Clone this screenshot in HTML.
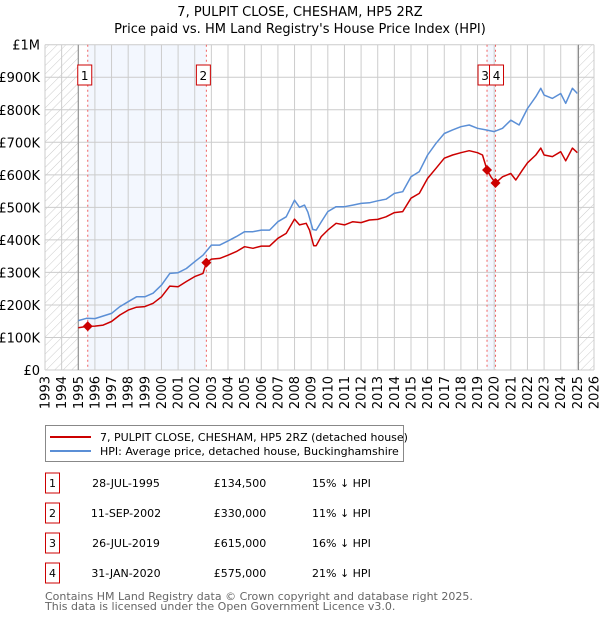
<!DOCTYPE html>
<html><head><meta charset="utf-8"><style>
body{margin:0;background:#fff;font-family:"Liberation Sans","DejaVu Sans",sans-serif;}
#wrap{position:relative;width:600px;height:620px;overflow:hidden}
svg text{font-family:"DejaVu Sans","Liberation Sans",sans-serif}
</style></head><body><div id="wrap">
<svg id="chart" width="600" height="620"></svg>
</div>
<script>
const hpiYears=[1995,1995.5,1996,1996.5,1997,1997.5,1998,1998.5,1999,1999.5,2000,2000.5,2001,2001.5,2002,2002.5,2003,2003.5,2004,2004.5,2005,2005.5,2006,2006.5,2007,2007.5,2008,2008.3,2008.6,2008.8,2009.1,2009.3,2009.6,2010,2010.5,2011,2011.5,2012,2012.5,2013,2013.5,2014,2014.5,2015,2015.5,2016,2016.5,2017,2017.5,2018,2018.5,2019,2019.5,2020,2020.5,2021,2021.5,2022,2022.5,2022.8,2023,2023.5,2024,2024.3,2024.7,2025];
const hpiValues=[152,159,158,166,174,195,210,225,225,236,261,297,299,312,333,353,384,384,397,410,425,425,430,430,456,471,522,500,507,485,432,430,455,487,502,502,507,512,514,520,525,543,548,594,610,661,697,727,738,748,753,743,738,733,743,768,753,804,840,866,845,835,850,820,866,850];
const priceYears=[1995,1995.57,1996,1996.5,1997,1997.5,1998,1998.5,1999,1999.5,2000,2000.5,2001,2001.5,2002,2002.5,2002.7,2003,2003.5,2004,2004.5,2005,2005.5,2006,2006.5,2007,2007.5,2008,2008.3,2008.7,2008.9,2009.15,2009.3,2009.6,2010,2010.5,2011,2011.5,2012,2012.5,2013,2013.5,2014,2014.5,2015,2015.5,2016,2016.5,2017,2017.5,2018,2018.5,2019,2019.3,2019.57,2019.8,2020.08,2020.5,2021,2021.3,2021.7,2022,2022.5,2022.8,2023,2023.5,2024,2024.3,2024.7,2025];
const priceValues=[130,134.5,135,138,149,169,184,193,195,205,225,258,256,272,287,297,330,341,343,353,364,379,374,381,381,405,420,464,446,451,430,382,382,410,430,451,446,456,453,461,463,471,484,487,528,543,589,620,651,661,668,674,668,661,615,594,575,594,604,584,615,637,661,682,661,656,671,643,682,668];
const saleLabels=["1","2","3","4"];
const saleYears=[1995.57,2002.7,2019.57,2020.08];
const saleValues=[134.5,330,615,575];
const yTicks=[0,100,200,300,400,500,600,700,800,900,1000];
const yTickLabels=["£0","£100K","£200K","£300K","£400K","£500K","£600K","£700K","£800K","£900K","£1M"];
const xYears=[1993,1994,1995,1996,1997,1998,1999,2000,2001,2002,2003,2004,2005,2006,2007,2008,2009,2010,2011,2012,2013,2014,2015,2016,2017,2018,2019,2020,2021,2022,2023,2024,2025,2026];
const saleDates=["28-JUL-1995","11-SEP-2002","26-JUL-2019","31-JAN-2020"];
const salePrices=["£134,500","£330,000","£615,000","£575,000"];
const saleDiffs=["15% ↓ HPI","11% ↓ HPI","16% ↓ HPI","21% ↓ HPI"];

const L=45,R=594,T=44.7,B=370;
const X=y=>L+(y-1993)/33*(R-L);
const Y=v=>B-v/1000*(B-T);
const svg=document.getElementById('chart');
const NS='http://www.w3.org/2000/svg';
function mk(tag,attrs,parent){const e=document.createElementNS(NS,tag);for(const k in attrs)e.setAttribute(k,attrs[k]);(parent||svg).appendChild(e);return e;}

const defs=mk('defs',{});
const pat=mk('pattern',{id:'hatch',width:6,height:6,patternUnits:'userSpaceOnUse',patternTransform:'rotate(45)'},defs);
mk('line',{x1:0,y1:0,x2:0,y2:6,stroke:'#ccc','stroke-width':1},pat);

let t=mk('text',{x:300,y:16,'text-anchor':'middle','font-size':13,fill:'#000'});
t.textContent='7, PULPIT CLOSE, CHESHAM, HP5 2RZ';


t=mk('text',{x:300,y:33,'text-anchor':'middle','font-size':13,fill:'#000'});
t.textContent="Price paid vs. HM Land Registry's House Price Index (HPI)";



let r=mk('rect',{x:X(saleYears[0]),y:T,width:X(saleYears[1])-X(saleYears[0]),height:B-T,fill:'#f3f7fe'});


r=mk('rect',{x:X(saleYears[2]),y:T,width:X(saleYears[3])-X(saleYears[2]),height:B-T,fill:'#f3f7fe'});


r=mk('rect',{x:L,y:T,width:X(1995)-L,height:B-T,fill:'url(#hatch)'});


r=mk('rect',{x:X(2025.07),y:T,width:R-X(2025.07),height:B-T,fill:'url(#hatch)'});



yTicks.forEach((v,i)=>{
  const g=mk('line',{x1:L,x2:R,y1:Y(v),y2:Y(v),stroke:'#ccc','stroke-width':1});
  
  
  const tx=mk('text',{x:L-5,y:Y(v)+5,'text-anchor':'end','font-size':13,fill:'#000'});
  tx.textContent=yTickLabels[i];
  
  
});
xYears.forEach(y=>{
  const g=mk('line',{x1:X(y),x2:X(y),y1:T,y2:B,stroke:'#ccc','stroke-width':1});
  
  
  const tx=mk('text',{x:0,y:0,'text-anchor':'end','font-size':13,fill:'#000',transform:`translate(${X(y)+4.5},${B+6}) rotate(-90)`});
  tx.textContent=y;
  
  
});
let vl=mk('line',{x1:X(1995),x2:X(1995),y1:T,y2:B,stroke:'#888','stroke-width':1});


vl=mk('line',{x1:X(2025.07),x2:X(2025.07),y1:T,y2:B,stroke:'#888','stroke-width':1});



saleYears.forEach((y,i)=>{
  const d=mk('line',{x1:X(y),x2:X(y),y1:T,y2:B,stroke:'#f06060','stroke-width':1,'stroke-dasharray':'2,3'});
  
  
});

function path(xs,vs,color,name){
  const p=mk('path',{d:xs.map((y,i)=>(i?'L':'M')+X(y).toFixed(1)+','+Y(vs[i]).toFixed(1)).join(''),fill:'none',stroke:color,'stroke-width':1.5,'stroke-linejoin':'round'});
  
  
}
path(hpiYears,hpiValues,'#5b8fd6','hpi-line');
path(priceYears,priceValues,'#cc0000','price-line');

saleYears.forEach((y,i)=>{
  const c=mk('path',{d:`M${X(y)},${Y(saleValues[i])-5}l5,5l-5,5l-5,-5z`,fill:'#cc0000'});
  
  
});
const boxX=[X(saleYears[0])-10,X(saleYears[1])-10,X(saleYears[2])-9,X(saleYears[3])-6];
saleLabels.forEach((s,i)=>{
  const g=mk('g',{});
  
  
  mk('rect',{x:boxX[i],y:65,width:14,height:20,fill:'#fff',stroke:'#cc0000','stroke-width':1},g);
  const tx=mk('text',{x:boxX[i]+7,y:80,'text-anchor':'middle','font-size':12,fill:'#000'},g);
  tx.textContent=s;
});

const lg=mk('g',{});


mk('rect',{x:45.5,y:425.5,width:358,height:36,fill:'#fff',stroke:'#888'},lg);
mk('line',{x1:50,x2:91,y1:437,y2:437,stroke:'#cc0000','stroke-width':2},lg);
mk('line',{x1:50,x2:91,y1:451,y2:451,stroke:'#5b8fd6','stroke-width':2},lg);
let lt=mk('text',{x:100,y:441,'font-size':11,fill:'#000'},lg);lt.textContent='7, PULPIT CLOSE, CHESHAM, HP5 2RZ (detached house)';


lt=mk('text',{x:100,y:455,'font-size':11,fill:'#000'},lg);lt.textContent='HPI: Average price, detached house, Buckinghamshire';



saleLabels.forEach((s,i)=>{
  const cy=483+i*30;
  const g=mk('g',{});
  
  
  mk('rect',{x:45.5,y:cy-10,width:14,height:20,fill:'#fff',stroke:'#cc0000'},g);
  let a=mk('text',{x:52.5,y:cy+4,'text-anchor':'middle','font-size':11},g);a.textContent=s;
  a=mk('text',{x:126,y:cy+4,'text-anchor':'middle','font-size':11},g);a.textContent=saleDates[i];
  a=mk('text',{x:240,y:cy+4,'text-anchor':'middle','font-size':11},g);a.textContent=salePrices[i];
  a=mk('text',{x:312,y:cy+4,'font-size':11},g);a.textContent=saleDiffs[i];
});
let f=mk('text',{x:45,y:600,'font-size':11,fill:'#666'});f.textContent='Contains HM Land Registry data © Crown copyright and database right 2025.';


f=mk('text',{x:45,y:610,'font-size':11,fill:'#666'});f.textContent='This data is licensed under the Open Government Licence v3.0.';


</script></body></html>
